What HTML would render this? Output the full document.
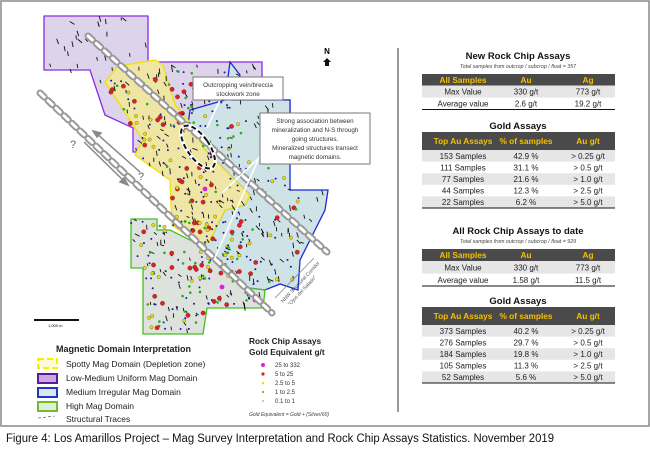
<!DOCTYPE html>
<html><head><meta charset="utf-8"><style>
body{margin:0;width:650px;height:450px;background:#fff;overflow:hidden;font-family:"Liberation Sans",sans-serif}
svg{position:absolute;left:0;top:0}
</style></head><body>
<svg width="650" height="450" viewBox="0 0 650 450" id="s" font-family="Liberation Sans, sans-serif">
<rect x="1" y="1" width="648" height="425" fill="#fff" stroke="#888" stroke-width="1.5"/>
<polygon points="44,16 148,16 148,62 262,62 262,100 290,100 290,140 190,140 143,152 133,152 133,128 105,115 100,100 90,70 44,70" fill="#ddd3ea" stroke="#8a2be2" stroke-width="1.3"/>
<polygon points="230,62 240,75 232,100 262,100 290,100 290,190 328,190 325,210 300,260 298,290 280,284 265,290 248,288 200,245 210,240 225,210 245,205 250,195 230,175 205,150 188,125 190,110 225,100" fill="#cfe3e6" stroke="#1a2bdc" stroke-width="1.3"/>
<polygon points="105,82 118,66 155,60 163,65 175,105 188,120 205,150 230,175 250,195 245,205 225,210 210,240 200,245 172,225 170,180 135,155 143,140 130,120" fill="#efe6a6" stroke="#f0e000" stroke-width="1.3"/>
<polygon points="131,219 157,219 157,230 170,230 200,245 248,288 265,290 263,308 207,308 203,334 143,334 143,268 131,268" fill="#dde3dc" stroke="#44c020" stroke-width="1.3"/>
<g id="tr" stroke="#111" stroke-width="0.9"></g>
<g id="dots"></g>
<g fill="none" stroke-linecap="round">
<line x1="88" y1="36" x2="327" y2="252" stroke="#999" stroke-width="7" stroke-dasharray="6,5"/>
<line x1="88" y1="36" x2="327" y2="252" stroke="#fff" stroke-width="3" stroke-dasharray="6,5"/>
<line x1="40" y1="93" x2="272" y2="313" stroke="#999" stroke-width="7" stroke-dasharray="6,5"/>
<line x1="40" y1="93" x2="272" y2="313" stroke="#fff" stroke-width="3" stroke-dasharray="6,5"/>
</g>
<g stroke="#888" stroke-width="1.5" fill="#888">
<line x1="96" y1="133" x2="140" y2="172"/><polygon points="93,131 101,133 97,137"/>
<line x1="84" y1="142" x2="126" y2="183"/><polygon points="128,185 120,182 124,178"/>
</g>
<text x="70" y="148" font-size="11" fill="#666">?</text>
<text x="138" y="180" font-size="11" fill="#666">?</text>
<ellipse cx="198" cy="147" rx="11" ry="25" transform="rotate(-35 198 147)" fill="none" stroke="#fff" stroke-width="4"/>
<ellipse cx="198" cy="147" rx="11" ry="25" transform="rotate(-35 198 147)" fill="none" stroke="#111" stroke-width="2" stroke-dasharray="5,3"/>
<g stroke="#fff" stroke-width="1.5">
<line x1="220" y1="100" x2="207" y2="128"/><line x1="262" y1="155" x2="222" y2="193"/><line x1="258" y1="160" x2="214" y2="260"/>
</g>
<rect x="193" y="77" width="90" height="23" fill="#fff" stroke="#777"/>
<text font-size="6.3" fill="#333" text-anchor="middle"><tspan x="238" y="87">Outcropping vein/breccia</tspan><tspan x="238" y="96">stockwork zone</tspan></text>
<rect x="260" y="113" width="110" height="51" fill="#fff" stroke="#777"/>
<text font-size="6.3" fill="#333" text-anchor="middle"><tspan x="315" y="123">Strong association between</tspan><tspan x="315" y="132">mineralization and N-S through</tspan><tspan x="315" y="141">going structures.</tspan><tspan x="315" y="150">Mineralized structures transect</tspan><tspan x="315" y="159">magnetic domains.</tspan></text>
<line x1="275" y1="298" x2="314" y2="258" stroke="#888" stroke-width="0.8"/>
<text x="283" y="303" font-size="5" fill="#555" transform="rotate(-47 283 303)">NNW Structural Corridor</text>
<text x="290" y="306" font-size="5" fill="#555" transform="rotate(-47 290 306)">"Ojos del Salado"</text>
<text x="327" y="54" font-size="8" font-weight="bold" text-anchor="middle">N</text>
<polygon points="327,58 331,62 329,62 329,66 325,66 325,62 323,62" fill="#111"/>
<line x1="34" y1="320" x2="79" y2="320" stroke="#111" stroke-width="2"/>
<text x="48" y="327" font-size="4">1,000 m</text>
<text x="56" y="352" font-size="9" font-weight="bold" fill="#222">Magnetic Domain Interpretation</text>
<rect x="38" y="359" width="19" height="9" fill="#fffbd0" stroke="#f5ef00" stroke-width="2" stroke-dasharray="6,3"/>
<rect x="38" y="374" width="19" height="9" fill="#c9a8e0" stroke="#5a1a9a" stroke-width="2"/>
<rect x="38" y="388" width="19" height="9" fill="#dce6f4" stroke="#1a3abf" stroke-width="2"/>
<rect x="38" y="402" width="19" height="9" fill="#e2ecd8" stroke="#6ac030" stroke-width="2"/>
<text font-size="8.5" fill="#222"><tspan x="66" y="367">Spotty Mag Domain (Depletion zone)</tspan><tspan x="66" y="381">Low-Medium Uniform Mag Domain</tspan><tspan x="66" y="395">Medium Irregular Mag Domain</tspan><tspan x="66" y="409">High Mag Domain</tspan><tspan x="66" y="422">Structural Traces</tspan></text>
<line x1="38" y1="418" x2="55" y2="416" stroke="#444" stroke-width="0.6" stroke-dasharray="3,2"/>
<text font-size="8.3" font-weight="bold" fill="#222"><tspan x="249" y="344">Rock Chip Assays</tspan><tspan x="249" y="355">Gold Equivalent g/t</tspan></text>
<circle cx="263" cy="365" r="2" fill="#e020e0"/><circle cx="263" cy="374" r="1.6" fill="#e02020"/><circle cx="263" cy="383" r="1.3" fill="#e8e000"/><circle cx="263" cy="392" r="1" fill="#20c020"/><circle cx="263" cy="401" r="0.6" fill="#2020c0"/>
<text font-size="6" fill="#333"><tspan x="275" y="367">25   to  332</tspan><tspan x="275" y="376">5     to  25</tspan><tspan x="275" y="385">2.5  to  5</tspan><tspan x="275" y="394">1     to  2.5</tspan><tspan x="275" y="403">0.1  to  1</tspan></text>
<text x="249" y="416" font-size="5" font-style="italic" fill="#444">Gold Equivalent = Gold + (Silver/60)</text>
<line x1="398" y1="48" x2="398" y2="412" stroke="#333" stroke-width="1"/>
<text x="6" y="442" font-size="11.5" fill="#111" textLength="548" lengthAdjust="spacingAndGlyphs">Figure 4: Los Amarillos Project – Mag Survey Interpretation and Rock Chip Assays Statistics. November 2019</text>
<g id="tables"></g>
</svg>
<script>
var NS="http://www.w3.org/2000/svg";
function el(p,t,a,txt){var e=document.createElementNS(NS,t);for(var k in a)e.setAttribute(k,a[k]);if(txt!=null)e.textContent=txt;p.appendChild(e);return e;}
var seed=7;function r(){seed=(seed*16807)%2147483647;return seed/2147483647;}
var polys=[[[44,16],[148,16],[148,62],[262,62],[262,100],[290,100],[290,190],[328,190],[300,260],[298,290],[265,290],[263,308],[207,308],[203,334],[143,334],[143,268],[131,268],[131,219],[157,219],[170,230],[172,225],[170,180],[135,155],[133,128],[105,115],[90,70],[44,70]]];
function inside(x,y,p){var c=false;for(var i=0,j=p.length-1;i<p.length;j=i++){var a=p[i],b=p[j];if(((a[1]>y)!=(b[1]>y))&&(x<(b[0]-a[0])*(y-a[1])/(b[1]-a[1])+a[0]))c=!c;}return c;}
var tr=document.getElementById('tr');
for(var n=0;n<500;n++){var x=40+r()*295,y=14+r()*322;if(!inside(x,y,polys[0]))continue;var ang=(r()<0.7?-80:-55+r()*30)*Math.PI/180+ (r()-.5)*0.4;var L=3+r()*3;el(tr,'line',{x1:x,y1:y,x2:x+Math.cos(ang)*L,y2:y-Math.sin(ang)*L});}
var d=document.getElementById('dots');
var cols=[['#e02020',2.2],['#e8e000',1.7],['#20b020',1.3],['#1a1aa0',1],['#1a1aa0',1],['#1a1aa0',1]];
for(var n=0;n<420;n++){var x,y;var z=r();if(z<0.45){x=110+r()*120;y=70+r()*170;}else if(z<0.8){x=135+r()*120;y=220+r()*110;}else{x=200+r()*100;y=120+r()*170;}
 if(!inside(x,y,polys[0]))continue;var c=cols[Math.floor(r()*cols.length)];el(d,'circle',{cx:x,cy:y,r:c[1],fill:c[0],stroke:c[1]>1.5?'#333':'none','stroke-width':0.3});}
[[205,189],[222,287],[255,300]].forEach(function(p){el(d,'circle',{cx:p[0],cy:p[1],r:2.4,fill:'#e020e0'});});
var T=document.getElementById('tables');
var L=422,R=615,c1=483,c2=540,c3=585;
function title(y,t,sub){el(T,'text',{x:518,y:y,'font-size':9.5,'font-weight':'bold','text-anchor':'middle',fill:'#111'},t);if(sub)el(T,'text',{x:518,y:y+9,'font-size':5.3,'font-style':'italic','text-anchor':'middle',fill:'#444'},sub);}
function hdr(y,h,cells){el(T,'rect',{x:L,y:y,width:R-L,height:h,fill:'#4a4a4a'});cells.forEach(function(t,i){el(T,'text',{x:[c1-20,c2-14,c3+3][i],y:y+h/2+3,'font-size':8.3,'font-weight':'bold','text-anchor':'middle',fill:'#f5c000'},t);});}
function rows(y,h,data){data.forEach(function(rw,k){if(k%2==0)el(T,'rect',{x:L,y:y+k*h,width:R-L,height:h,fill:'#e6e6e6'});rw.forEach(function(t,i){el(T,'text',{x:[c1-20,c2-14,c3+3][i],y:y+k*h+h/2+3,'font-size':8,'text-anchor':'middle',fill:'#222'},t);});});el(T,'line',{x1:L,y1:y+data.length*h,x2:R,y2:y+data.length*h,stroke:'#111','stroke-width':1});}
title(59,'New Rock Chip Assays','Total samples from outcrop / subcrop / float = 357');
hdr(74,11.5,['All Samples','Au','Ag']);rows(85.5,12,[['Max Value','330 g/t','773 g/t'],['Average value','2.6 g/t','19.2 g/t']]);
title(129,'Gold Assays');
hdr(132,18,['Top Au Assays','% of samples','Au g/t']);rows(150,11.6,[['153 Samples','42.9 %','> 0.25 g/t'],['111 Samples','31.1 %','> 0.5 g/t'],['77 Samples','21.6 %','> 1.0 g/t'],['44 Samples','12.3 %','> 2.5 g/t'],['22 Samples','6.2 %','> 5.0 g/t']]);
title(234,'All Rock Chip Assays to date','Total samples from outcrop / subcrop / float = 929');
hdr(249,12,['All Samples','Au','Ag']);rows(261,12.5,[['Max Value','330 g/t','773 g/t'],['Average value','1.58 g/t','11.5 g/t']]);
title(304,'Gold Assays');
hdr(307,18,['Top Au Assays','% of samples','Au g/t']);rows(325,11.6,[['373 Samples','40.2 %','> 0.25 g/t'],['276 Samples','29.7 %','> 0.5 g/t'],['184 Samples','19.8 %','> 1.0 g/t'],['105 Samples','11.3 %','> 2.5 g/t'],['52 Samples','5.6 %','> 5.0 g/t']]);
</script>
</body></html>
